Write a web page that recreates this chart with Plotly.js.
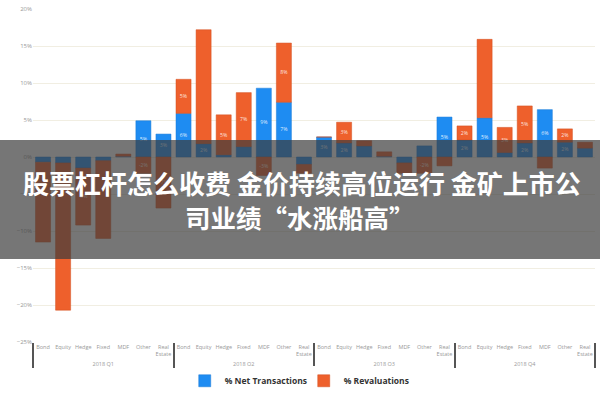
<!DOCTYPE html>
<html>
<head>
<meta charset="utf-8">
<script src="https://cdn.plot.ly/plotly-3.0.1.min.js"></script>
<style>html,body{margin:0;padding:0;background:#fff;}#chart{width:600px;height:400px;}</style>
</head>
<body>
<div id="chart"></div>
<script>
var groups = ["2018 Q1", "2018 Q2", "2018 Q3", "2018 Q4"];
var categories = ["Bond", "Equity", "Hedge", "Fixed", "MDF", "Other", "Real<br>Estate"];
var netTransactions = [-0.7, -0.8, -1.5, -0.5, 0.1, 4.9, 3.1,
                       5.9, 1.8, 0.3, 1.4, 9.3, 7.4, -1.0,
                       2.7, 1.9, 1.5, 0.1, -0.8, 1.5, 5.4,
                       2.3, 5.3, 0.6, 1.9, 6.4, 2.0, 1.2];
var revaluations = [-10.8, -19.9, -7.7, -10.5, 0.3, -2.2, -6.9,
                    4.6, 15.4, 5.4, 7.3, -2.5, 8.0, -1.2,
                    0.0, 2.8, 0.7, 0.6, -1.4, -2.2, -1.2,
                    1.9, 10.6, 3.4, 5.0, -1.5, 1.8, 0.8];
var bannerLine1 = "股票杠杆怎么收费 金价持续高位运行 金矿上市公";
var bannerLine2 = "司业绩“水涨船高”";

var xGroup = [], xCat = [];
groups.forEach(function (g) {
  categories.forEach(function (c) { xGroup.push(g); xCat.push(c); });
});

var common = {
  type: "bar",
  x: [xGroup, xCat],
  texttemplate: "%{y:.0f}%",
  textposition: "inside",
  insidetextanchor: "middle",
  textangle: 0,
  textfont: {color: "rgba(255,255,255,0.85)", size: 6, family: "Open Sans"},
  hoverinfo: "skip"
};

var traceNet = Object.assign({}, common, {
  name: "% Net Transactions",
  y: netTransactions,
  marker: {color: "#1e8cf2", line: {color: "#1a7ad6", width: 0.5}}
});
var traceReval = Object.assign({}, common, {
  name: "% Revaluations",
  y: revaluations,
  marker: {color: "#ee602c", line: {color: "#d24f1f", width: 0.5}}
});

var layout = {
  width: 600, height: 400,
  margin: {l: 33, r: 5, t: 9, b: 58},
  paper_bgcolor: "#ffffff",
  plot_bgcolor: "#ffffff",
  barmode: "relative",
  bargap: 0.25,
  showlegend: true,
  uniformtext: {minsize: 5, mode: "hide"},
  legend: {
    orientation: "h", x: 0.27, xanchor: "left", y: -0.16, yanchor: "bottom",
    font: {size: 8.5, color: "#333", family: "Open Sans", weight: "bold"},
    entrywidth: 74, entrywidthmode: "pixels",
    itemwidth: 30
  },
  xaxis: {
    type: "multicategory",
    tickangle: 0,
    automargin: false,
    tickfont: {size: 5.5, color: "#999", family: "Open Sans"},
    showdividers: true,
    dividercolor: "#555",
    dividerwidth: 2,
    showgrid: false,
    showline: false,
    ticks: ""
  },
  yaxis: {
    range: [-25, 20],
    dtick: 5,
    automargin: false,
    ticksuffix: "%",
    tickfont: {size: 6, color: "#999", family: "Open Sans"},
    gridcolor: "#f1eee2",
    zeroline: false,
    showline: false
  },
  shapes: [{
    type: "rect", xref: "paper", yref: "paper",
    x0: -0.1, x1: 1.1, y0: 0.2492, y1: 0.6066,
    fillcolor: "rgba(60,60,60,0.7)", line: {width: 0}, layer: "above"
  }],
  annotations: [{
    xref: "paper", yref: "paper", x: 0.4778, y: 0.4775,
    xanchor: "center", yanchor: "middle", showarrow: false,
    text: bannerLine1,
    font: {family: "Noto Sans CJK SC", size: 26, color: "#ffffff", weight: "bold"}
  }, {
    xref: "paper", yref: "paper", x: 0.4751, y: 0.3754,
    xanchor: "center", yanchor: "middle", showarrow: false,
    text: bannerLine2,
    font: {family: "Noto Sans CJK SC", size: 25.5, color: "#ffffff", weight: "bold"}
  }]
};

Plotly.newPlot("chart", [traceNet, traceReval], layout, {displayModeBar: false, staticPlot: true});
</script>
</body>
</html>
